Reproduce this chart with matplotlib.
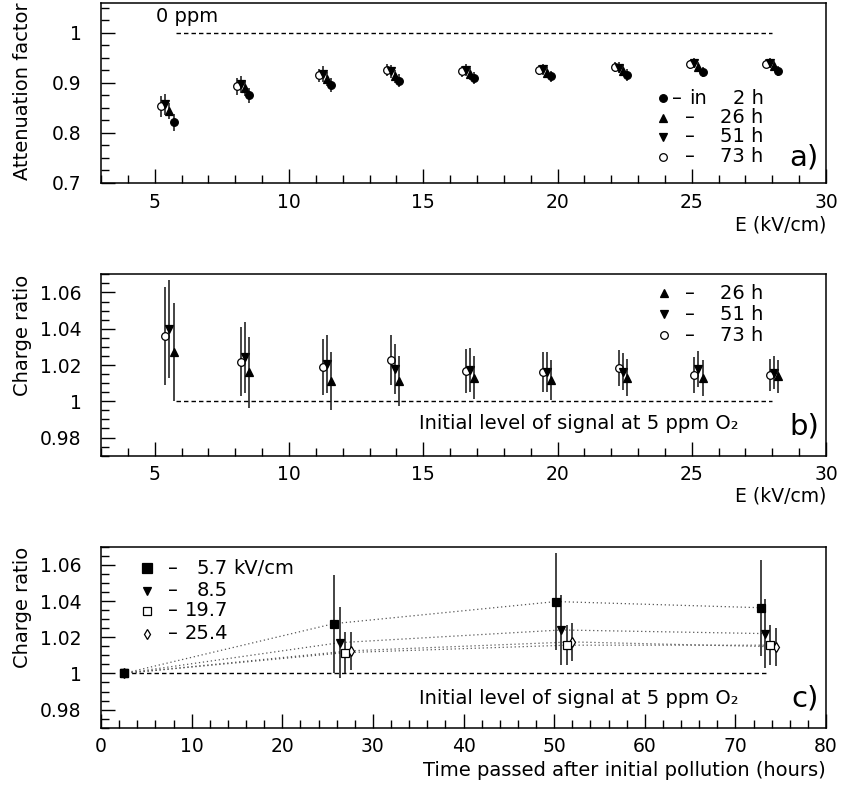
import matplotlib
matplotlib.use('Agg')
import matplotlib.pyplot as plt
from matplotlib.ticker import MultipleLocator, FuncFormatter

plt.rcParams['font.family'] = ['DejaVu Sans']

# a) attenuation factor vs field, 4 times after pollution (open, down, up, filled)
E = [5.7, 8.5, 11.55, 14.1, 16.9, 19.75, 22.6, 25.4, 28.2]
att_2h = [0.821, 0.875, 0.896, 0.904, 0.909, 0.913, 0.915, 0.921, 0.924]
att_26h = [0.843, 0.889, 0.907, 0.913, 0.917, 0.920, 0.924, 0.932, 0.933]
att_51h = [0.857, 0.897, 0.917, 0.923, 0.925, 0.927, 0.930, 0.939, 0.939]
att_73h = [0.853, 0.893, 0.915, 0.925, 0.923, 0.925, 0.932, 0.937, 0.938]
att_2h_err = [0.017, 0.015, 0.014, 0.013, 0.012, 0.011, 0.012, 0.010, 0.010]
att_26h_err = [0.016, 0.015, 0.014, 0.013, 0.012, 0.011, 0.011, 0.010, 0.010]
att_51h_err = [0.021, 0.017, 0.016, 0.013, 0.012, 0.011, 0.011, 0.010, 0.010]
att_73h_err = [0.021, 0.017, 0.013, 0.012, 0.011, 0.010, 0.010, 0.009, 0.009]

# b) charge ratio vs field
q_26h = [1.027, 1.016, 1.0113, 1.011, 1.0131, 1.0118, 1.0131, 1.0127, 1.0137]
q_51h = [1.040, 1.0242, 1.0204, 1.0177, 1.0173, 1.016, 1.0164, 1.0177, 1.0158]
q_73h = [1.0362, 1.0217, 1.0189, 1.0227, 1.0167, 1.016, 1.0182, 1.0145, 1.0145]
q_26h_err = [0.027, 0.0195, 0.016, 0.0137, 0.012, 0.011, 0.010, 0.010, 0.009]
q_51h_err = [0.027, 0.0196, 0.016, 0.0137, 0.012, 0.011, 0.010, 0.010, 0.009]
q_73h_err = [0.027, 0.019, 0.0157, 0.0136, 0.012, 0.011, 0.010, 0.010, 0.009]

# c) charge ratio vs time for 4 fields
t_57 = [2.5, 25.7, 50.2, 72.8]
q_57 = [1.0, 1.0275, 1.0397, 1.0363]
e_57 = [0, 0.027, 0.027, 0.0266]
t_85 = [2.5, 26.35, 50.8, 73.3]
q_85 = [1.0, 1.017, 1.024, 1.022]
e_85 = [0, 0.0195, 0.0195, 0.019]
t_197 = [2.5, 26.94, 51.4, 73.87]
q_197 = [1.0, 1.0115, 1.0156, 1.0156]
e_197 = [0, 0.0115, 0.011, 0.011]
t_254 = [2.5, 27.53, 52.0, 74.5]
q_254 = [1.0, 1.0125, 1.0174, 1.0147]
e_254 = [0, 0.0105, 0.0105, 0.0105]

fmt = FuncFormatter(lambda v, p: '%g' % round(v, 4))
FS = 14

fig = plt.figure(figsize=(8.41, 7.88), dpi=100)
ax1 = fig.add_axes([0.1201, 0.7678, 0.8621, 0.2288])
ax2 = fig.add_axes([0.1201, 0.4217, 0.8621, 0.2302])
ax3 = fig.add_axes([0.1201, 0.0765, 0.8621, 0.2297])

for ax in (ax1, ax2, ax3):
    for s in ax.spines.values():
        s.set_linewidth(1.1)
    ax.tick_params(which='both', direction='in', top=False, right=False, width=1, labelsize=13.5)
    ax.tick_params(which='major', length=10)
    ax.tick_params(which='minor', length=6)
    ax.tick_params(axis='y', pad=14)
    ax.tick_params(axis='x', pad=7)
    ax.xaxis.set_major_formatter(fmt)
    ax.yaxis.set_major_formatter(fmt)


def pts(ax, x, y, err, dx, marker, ms, face='k'):
    xs = [v + dx for v in x]
    ax.errorbar(xs, y, yerr=err, fmt='none', ecolor='#111111', elinewidth=1.1, capsize=0)
    ax.plot(xs, y, linestyle='none', marker=marker, ms=ms, mfc=face, mec='k', mew=0.9)


def legend_row(ax, fx, fy, marker, ms, face, dash_x, parts):
    ax.plot([fx], [fy], marker=marker, ms=ms, mfc=face, mec='k', mew=0.9,
            transform=ax.transAxes, clip_on=False)
    ax.text(dash_x, fy, '–', transform=ax.transAxes, ha='center', va='center', fontsize=FS)
    for x, s, ha in parts:
        ax.text(x, fy, s, transform=ax.transAxes, ha=ha, va='center', fontsize=FS)


# ---- a)
ax1.plot([5.8, 28.0], [1, 1], color='k', lw=1, dashes=(3.2, 2.2))
pts(ax1, E, att_73h, att_73h_err, -0.45, 'o', 5.5, 'white')
pts(ax1, E, att_51h, att_51h_err, -0.30, 'v', 5.5)
pts(ax1, E, att_26h, att_26h_err, -0.15, '^', 5.5)
pts(ax1, E, att_2h, att_2h_err, 0.0, 'o', 5.5)
ax1.set_xlim(3, 30)
ax1.set_ylim(0.7, 1.06)
ax1.xaxis.set_major_locator(MultipleLocator(5))
ax1.xaxis.set_minor_locator(MultipleLocator(1))
ax1.yaxis.set_major_locator(MultipleLocator(0.1))
ax1.yaxis.set_minor_locator(MultipleLocator(0.025))
ax1.text(5.05, 1.032, '0 ppm', ha='left', va='center', fontsize=FS)
legend_row(ax1, 0.775, 0.470, 'o', 5.5, 'k', 0.795, [(0.811, 'in', 'left'), (0.914, '2 h', 'right')])
legend_row(ax1, 0.775, 0.362, '^', 5.5, 'k', 0.812, [(0.914, '26 h', 'right')])
legend_row(ax1, 0.775, 0.257, 'v', 5.5, 'k', 0.812, [(0.914, '51 h', 'right')])
legend_row(ax1, 0.775, 0.146, 'o', 5.5, 'white', 0.812, [(0.914, '73 h', 'right')])
ax1.text(0.99, 0.14, 'a)', transform=ax1.transAxes, ha='right', va='center', fontsize=21)
ax1.text(-0.108, 1.0, 'Attenuation factor', transform=ax1.transAxes, rotation=90,
         ha='center', va='top', fontsize=FS)
ax1.text(1.0, -0.235, 'E (kV/cm)', transform=ax1.transAxes, ha='right', va='center', fontsize=13.5)

# ---- b)
ax2.plot([5.8, 28.0], [1, 1], color='k', lw=1, dashes=(3.2, 2.2))
pts(ax2, E, q_73h, q_73h_err, -0.30, 'o', 5.5, 'white')
pts(ax2, E, q_51h, q_51h_err, -0.15, 'v', 5.5)
pts(ax2, E, q_26h, q_26h_err, 0.0, '^', 5.5)
ax2.set_xlim(3, 30)
ax2.set_ylim(0.97, 1.07)
ax2.xaxis.set_major_locator(MultipleLocator(5))
ax2.xaxis.set_minor_locator(MultipleLocator(1))
ax2.yaxis.set_major_locator(MultipleLocator(0.02))
ax2.yaxis.set_minor_locator(MultipleLocator(0.005))
legend_row(ax2, 0.776, 0.895, '^', 5.5, 'k', 0.812, [(0.914, '26 h', 'right')])
legend_row(ax2, 0.776, 0.780, 'v', 5.5, 'k', 0.812, [(0.914, '51 h', 'right')])
legend_row(ax2, 0.776, 0.665, 'o', 5.5, 'white', 0.812, [(0.914, '73 h', 'right')])
ax2.text(14.85, 0.9878, 'Initial level of signal at 5 ppm O₂', ha='left', va='center', fontsize=FS)
ax2.text(0.99, 0.16, 'b)', transform=ax2.transAxes, ha='right', va='center', fontsize=21)
ax2.text(-0.108, 1.0, 'Charge ratio', transform=ax2.transAxes, rotation=90,
         ha='center', va='top', fontsize=FS)
ax2.text(1.0, -0.22, 'E (kV/cm)', transform=ax2.transAxes, ha='right', va='center', fontsize=13.5)

# ---- c)
ax3.plot([2.5, 73.5], [1, 1], color='k', lw=1, dashes=(3.2, 2.2))
for t, q in ((t_254, q_254), (t_197, q_197), (t_85, q_85), (t_57, q_57)):
    ax3.plot(t, q, color='#555555', lw=0.9, dashes=(1, 2.2))
pts(ax3, t_254, q_254, e_254, 0.0, 'd', 5.5, 'white')
pts(ax3, t_197, q_197, e_197, 0.0, 's', 6, 'white')
pts(ax3, t_85, q_85, e_85, 0.0, 'v', 5.5)
pts(ax3, t_57, q_57, e_57, 0.0, 's', 6.2)
ax3.set_xlim(0, 80)
ax3.set_ylim(0.97, 1.07)
ax3.xaxis.set_major_locator(MultipleLocator(10))
ax3.xaxis.set_minor_locator(MultipleLocator(2))
ax3.yaxis.set_major_locator(MultipleLocator(0.02))
ax3.yaxis.set_minor_locator(MultipleLocator(0.005))
legend_row(ax3, 0.063, 0.881, 's', 6.5, 'k', 0.0986, [(0.175, '5.7', 'right'), (0.182, 'kV/cm', 'left')])
legend_row(ax3, 0.063, 0.756, 'v', 5.5, 'k', 0.0986, [(0.175, '8.5', 'right')])
legend_row(ax3, 0.063, 0.647, 's', 6, 'white', 0.0986, [(0.175, '19.7', 'right')])
legend_row(ax3, 0.063, 0.518, 'd', 5.5, 'white', 0.0986, [(0.175, '25.4', 'right')])
ax3.text(35.1, 0.9863, 'Initial level of signal at 5 ppm O₂', ha='left', va='center', fontsize=FS)
ax3.text(0.99, 0.16, 'c)', transform=ax3.transAxes, ha='right', va='center', fontsize=21)
ax3.text(-0.108, 1.0, 'Charge ratio', transform=ax3.transAxes, rotation=90,
         ha='center', va='top', fontsize=FS)
ax3.text(1.0, -0.235, 'Time passed after initial pollution (hours)', transform=ax3.transAxes,
         ha='right', va='center', fontsize=14)

fig.savefig('out.png', dpi=100)
